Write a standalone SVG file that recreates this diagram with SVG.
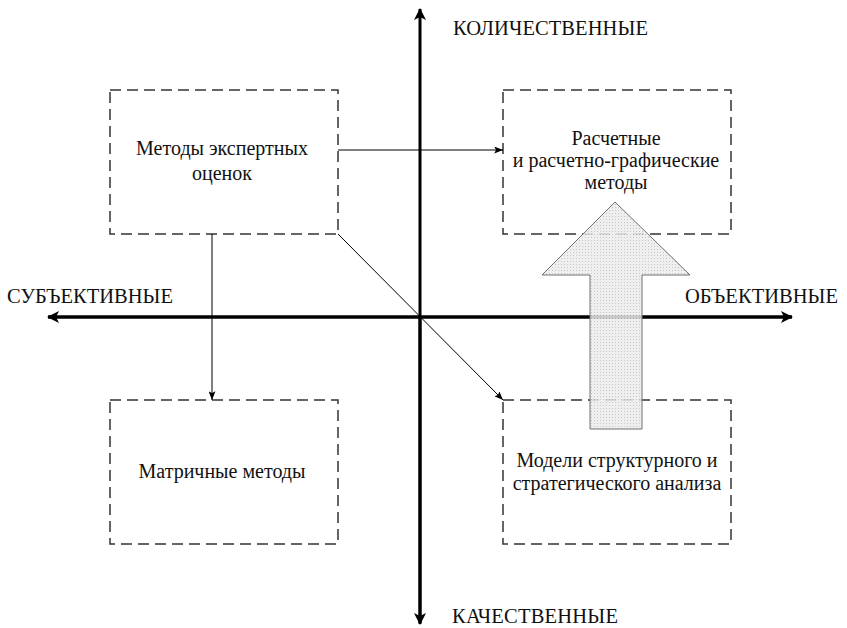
<svg xmlns="http://www.w3.org/2000/svg" width="847" height="628" viewBox="0 0 847 628">
  <defs>
    <style>
      text { font-family: "Liberation Serif", "Times New Roman", Times, "DejaVu Serif", serif; }
      .box { fill: none; stroke: #333; stroke-width: 1.5; stroke-dasharray: 11 6; }
      .txt { font-size: 20px; fill: #111; text-anchor: middle; }
      .axlbl { font-size: 20.5px; fill: #111; }
      .axis { stroke: #000; stroke-width: 3; fill: none; }
      .conn { stroke: #000; stroke-width: 1; fill: none; }
    </style>
    <marker id="axHead" viewBox="0 0 12 12" refX="11" refY="6" markerWidth="4" markerHeight="4" orient="auto" markerUnits="strokeWidth">
      <path d="M0,0 L12,6 L0,12 L3,6 Z" fill="#000"/>
    </marker>
    <marker id="cHead" viewBox="0 0 10 8" refX="10" refY="4" markerWidth="9" markerHeight="7" orient="auto" markerUnits="userSpaceOnUse">
      <path d="M0,0 L10,4 L0,8 L2,4 Z" fill="#000"/>
    </marker>
    <pattern id="dots" width="3" height="3" patternUnits="userSpaceOnUse">
      <rect width="3" height="3" fill="#ececec"/>
      <rect width="1" height="1" fill="#bdbdbd"/>
    </pattern>
  </defs>

  <g id="axes">
    <line class="axis" x1="420" y1="623" x2="420" y2="9" marker-end="url(#axHead)"/>
    <line class="axis" x1="420" y1="318" x2="420" y2="624" marker-end="url(#axHead)"/>
    <line class="axis" x1="48" y1="317" x2="792" y2="317" marker-end="url(#axHead)"/>
    <line class="axis" x1="792" y1="317" x2="48" y2="317" marker-end="url(#axHead)"/>
    <text class="axlbl" x="453" y="35" textLength="195" lengthAdjust="spacing">КОЛИЧЕСТВЕННЫЕ</text>
    <text class="axlbl" x="452" y="623" textLength="166" lengthAdjust="spacing">КАЧЕСТВЕННЫЕ</text>
    <text class="axlbl" x="7" y="303" textLength="166" lengthAdjust="spacing">СУБЪЕКТИВНЫЕ</text>
    <text class="axlbl" x="685" y="303" textLength="153" lengthAdjust="spacing">ОБЪЕКТИВНЫЕ</text>
  </g>

  <g id="node-expert">
    <rect class="box" x="110" y="90" width="228" height="144"/>
    <text class="txt" x="222" y="155">Методы экспертных</text>
    <text class="txt" x="222" y="180">оценок</text>
  </g>

  <g id="node-calc">
    <rect class="box" x="503" y="90" width="228" height="144"/>
    <text class="txt" x="616" y="145">Расчетные</text>
    <text class="txt" x="616" y="167">и расчетно-графические</text>
    <text class="txt" x="616" y="189">методы</text>
  </g>

  <g id="node-matrix">
    <rect class="box" x="110" y="400" width="228" height="144"/>
    <text class="txt" x="222" y="478">Матричные методы</text>
  </g>

  <g id="node-models">
    <rect class="box" x="503" y="400" width="228" height="144"/>
    <text class="txt" x="617" y="467">Модели структурного и</text>
    <text class="txt" x="617" y="490">стратегического анализа</text>
  </g>

  <g id="connectors">
    <line class="conn" x1="338" y1="150" x2="503" y2="150" marker-end="url(#cHead)"/>
    <line class="conn" x1="212" y1="234" x2="212" y2="400" marker-end="url(#cHead)"/>
    <line class="conn" x1="338" y1="234" x2="503" y2="400" marker-end="url(#cHead)"/>
  </g>

  <g id="big-arrow">
    <polygon points="615,202 690,275 642,275 642,429 590,429 590,275 542,275" fill="url(#dots)" fill-opacity="0.85" stroke="#6e6e6e" stroke-width="1"/>
  </g>
</svg>
